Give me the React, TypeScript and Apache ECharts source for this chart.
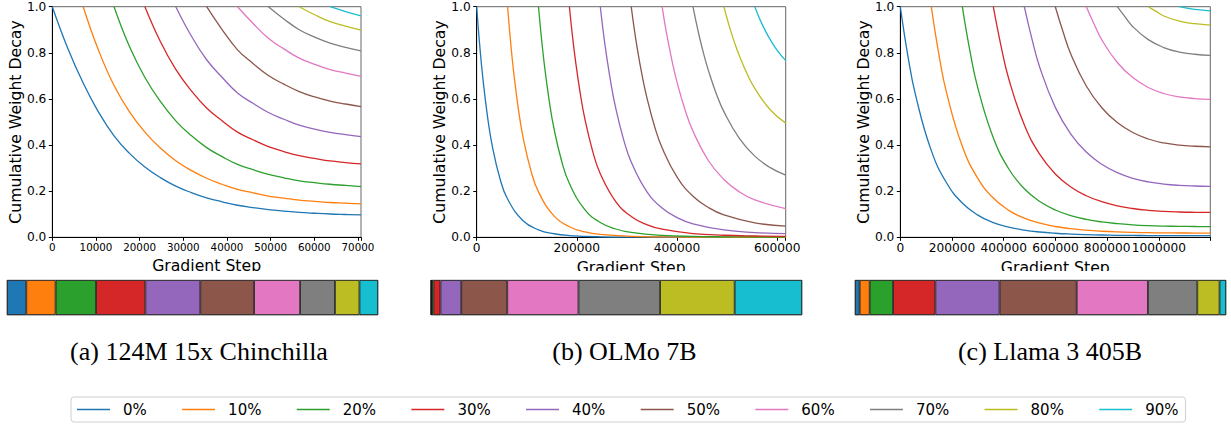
import React, { useEffect, useRef } from "react";
import * as echarts from "echarts";

const colors = ["#1f77b4", "#ff7f0e", "#2ca02c", "#d62728", "#9467bd", "#8c564b", "#e377c2", "#7f7f7f", "#bcbd22", "#17becf"];
const seriesNames = ["0%", "10%", "20%", "30%", "40%", "50%", "60%", "70%", "80%", "90%"];
const startFractions = [0, 0.1, 0.2, 0.3, 0.4, 0.5, 0.6, 0.7, 0.8, 0.9];
const captions = ["(a) 124M 15x Chinchilla", "(b) OLMo 7B", "(c) Llama 3 405B"];

// (a) 124M 15x Chinchilla
const chinchillaTotalSteps = 70700;
const chinchillaTicks = 10000;
const chinchillaOffsets = [0, 0.05, 0.1, 0.15, 0.2, 0.25, 0.3, 0.35, 0.4, 0.45, 0.5, 0.55, 0.6, 0.65, 0.7, 0.75, 0.8, 0.85, 0.9, 0.95, 1];
const chinchillaCurves = [
  [1, 0.82, 0.669, 0.542, 0.44, 0.364, 0.305, 0.259, 0.222, 0.194, 0.171, 0.154, 0.139, 0.129, 0.12, 0.1136, 0.108, 0.1042, 0.101, 0.0989, 0.097],
  [1, 0.81, 0.658, 0.544, 0.456, 0.387, 0.332, 0.29, 0.256, 0.23, 0.208, 0.193, 0.179, 0.17, 0.161, 0.156, 0.151, 0.148, 0.145],
  [1, 0.827, 0.693, 0.589, 0.505, 0.441, 0.389, 0.35, 0.316, 0.293, 0.273, 0.258, 0.245, 0.237, 0.23, 0.225, 0.22],
  [1, 0.849, 0.728, 0.636, 0.561, 0.505, 0.456, 0.423, 0.393, 0.372, 0.354, 0.342, 0.331, 0.324, 0.318],
  [1, 0.874, 0.77, 0.694, 0.626, 0.581, 0.541, 0.512, 0.486, 0.469, 0.455, 0.445, 0.437],
  [1, 0.901, 0.813, 0.754, 0.702, 0.664, 0.632, 0.609, 0.591, 0.578, 0.567],
  [1, 0.928, 0.863, 0.817, 0.777, 0.75, 0.727, 0.712, 0.698],
  [1, 0.947, 0.9, 0.868, 0.842, 0.824, 0.808],
  [1, 0.965, 0.935, 0.916, 0.898],
  [1, 0.979, 0.96],
];
const chinchillaShares = [5.2, 7.9, 10.9, 13.3, 14.8, 14.5, 12.4, 9.4, 6.6, 5.0];

// (b) OLMo 7B
const olmoTotalSteps = 617000;
const olmoTicks = 200000;
const olmoOffsets = [0, 0.01, 0.02, 0.035, 0.05, 0.075, 0.1, 0.15, 0.2, 0.25, 0.3, 0.4, 0.5, 0.6, 0.7, 0.8, 0.9, 1];
const olmoCurves = [
  [1, 0.829, 0.689, 0.523, 0.399, 0.256, 0.166, 0.0719, 0.0326, 0.0154, 0.0076, 0.0021, 0.00069, 0.00027, 0.00012, 0.00007, 0.00004, 0.00003],
  [1, 0.843, 0.712, 0.555, 0.434, 0.291, 0.197, 0.0929, 0.0458, 0.0235, 0.0126, 0.0041, 0.0016, 0.00074, 0.0004, 0.00026, 0.0002],
  [1, 0.858, 0.737, 0.589, 0.472, 0.33, 0.233, 0.12, 0.0643, 0.036, 0.0211, 0.0082, 0.0038, 0.00205, 0.00132, 0.00101],
  [1, 0.872, 0.763, 0.625, 0.514, 0.375, 0.276, 0.155, 0.0904, 0.0551, 0.0351, 0.0161, 0.0088, 0.0057, 0.0043],
  [1, 0.887, 0.789, 0.663, 0.56, 0.426, 0.327, 0.1995, 0.127, 0.0843, 0.0584, 0.0318, 0.0206, 0.0157],
  [1, 0.903, 0.816, 0.704, 0.61, 0.484, 0.388, 0.2575, 0.178, 0.129, 0.0972, 0.0628, 0.0481],
  [1, 0.918, 0.845, 0.747, 0.664, 0.55, 0.46, 0.332, 0.251, 0.197, 0.162, 0.124],
  [1, 0.934, 0.874, 0.793, 0.723, 0.624, 0.545, 0.429, 0.352, 0.302, 0.27],
  [1, 0.95, 0.904, 0.842, 0.787, 0.709, 0.646, 0.553, 0.495],
  [1, 0.966, 0.935, 0.893, 0.857, 0.806, 0.766],
];
const olmoShares = [0.05, 0.1, 0.5, 1.9, 5.6, 12.4, 19.2, 22.0, 20.1, 18.15];

// (c) Llama 3 405B
const llamaTotalSteps = 1199000;
const llamaTicks = 200000;
const llamaOffsets = [0, 0.025, 0.05, 0.1, 0.15, 0.2, 0.25, 0.3, 0.35, 0.4, 0.45, 0.5, 0.55, 0.6, 0.65, 0.7, 0.75, 0.8, 0.85, 0.9, 0.95, 1];
const llamaCurves = [
  [1, 0.782, 0.612, 0.376, 0.2344, 0.1485, 0.0962, 0.064, 0.044, 0.0312, 0.023, 0.0176, 0.014, 0.01155, 0.00989, 0.00876, 0.008, 0.00751, 0.0072, 0.00703, 0.00695, 0.00691],
  [1, 0.789, 0.6227, 0.3945, 0.2556, 0.1701, 0.1168, 0.083, 0.0611, 0.0468, 0.0372, 0.0307, 0.0263, 0.02326, 0.02124, 0.01993, 0.01913, 0.01868, 0.01846, 0.01835],
  [1, 0.805, 0.648, 0.4313, 0.2961, 0.2103, 0.1549, 0.1185, 0.0942, 0.0778, 0.0666, 0.059, 0.0538, 0.0505, 0.0485, 0.0474, 0.0468, 0.0465],
  [1, 0.829, 0.6866, 0.4877, 0.3593, 0.2748, 0.2185, 0.1803, 0.1544, 0.1367, 0.1249, 0.1172, 0.1124, 0.1098, 0.1085, 0.1079],
  [1, 0.858, 0.7367, 0.5635, 0.4479, 0.3697, 0.3165, 0.2803, 0.256, 0.2402, 0.2306, 0.2252, 0.2225, 0.2212],
  [1, 0.8915, 0.7949, 0.656, 0.5616, 0.4974, 0.4543, 0.4263, 0.4091, 0.3996, 0.3948, 0.3924],
  [1, 0.9252, 0.8561, 0.7581, 0.6925, 0.6498, 0.6236, 0.609, 0.6018, 0.5982],
  [1, 0.9557, 0.9134, 0.8571, 0.8226, 0.8033, 0.7938, 0.789],
  [1, 0.9797, 0.9597, 0.9373, 0.9262, 0.9205],
  [1, 0.9941, 0.9882, 0.9822],
];
const llamaShares = [1.26, 2.7, 6.3, 11.4, 17.3, 20.8, 19.2, 13.3, 6.0, 1.74];

const yTicks = [0, 0.2, 0.4, 0.6, 0.8, 1.0];

const FONT = "DejaVu Sans";

type Panel = {
  total: number;
  tick: number;
  offsets: number[];
  curves: number[][];
  shares: number[];
  tickFont: number;
};

const panels: Panel[] = [
  { total: chinchillaTotalSteps, tick: chinchillaTicks, offsets: chinchillaOffsets, curves: chinchillaCurves, shares: chinchillaShares, tickFont: 10.3 },
  { total: olmoTotalSteps, tick: olmoTicks, offsets: olmoOffsets, curves: olmoCurves, shares: olmoShares, tickFont: 12.2 },
  { total: llamaTotalSteps, tick: llamaTicks, offsets: llamaOffsets, curves: llamaCurves, shares: llamaShares, tickFont: 12.2 },
];

const lineGrids = [
  { left: 52.3, top: 6.7, width: 308.7, height: 230.6 },
  { left: 476.7, top: 6.7, width: 309, height: 230.6 },
  { left: 900.3, top: 6.7, width: 310, height: 230.6 },
];
const barGrids = [
  { left: 7, top: 280, width: 371, height: 35 },
  { left: 431, top: 280, width: 371, height: 35 },
  { left: 855, top: 280, width: 371, height: 35 },
];
const captionCenters = [199, 624.5, 1050];

function buildOption() {
  const grid: any[] = [];
  const xAxis: any[] = [];
  const yAxis: any[] = [];
  const series: any[] = [];

  panels.forEach((p, pi) => {
    grid.push({
      ...lineGrids[pi],
      show: true,
      borderColor: "#666",
      borderWidth: 1,
      backgroundColor: "transparent",
      containLabel: false,
    });
    xAxis.push({
      type: "value",
      gridIndex: pi,
      min: 0,
      max: p.total,
      interval: p.tick,
      name: "Gradient Step",
      nameLocation: "middle",
      nameGap: 20,
      nameTextStyle: { fontFamily: FONT, fontSize: 15.7, color: "#000" },
      axisLine: { show: true, onZero: false, lineStyle: { color: "#000", width: 1 } },
      axisTick: { show: true, length: 3.5, lineStyle: { color: "#000", width: 1 } },
      axisLabel: {
        fontFamily: FONT,
        fontSize: p.tickFont,
        color: "#000",
        margin: 5,
        formatter: (v: number) => (Math.abs(v % p.tick) < 1e-6 ? String(v) : ""),
      },
      splitLine: { show: false },
    });
    yAxis.push({
      type: "value",
      gridIndex: pi,
      min: 0,
      max: 1,
      interval: 0.2,
      name: "Cumulative Weight Decay",
      nameLocation: "middle",
      nameGap: 29,
      nameTextStyle: { fontFamily: FONT, fontSize: 15.7, color: "#000" },
      axisLine: { show: true, onZero: false, lineStyle: { color: "#000", width: 1 } },
      axisTick: { show: true, length: 3.5, lineStyle: { color: "#000", width: 1 } },
      axisLabel: {
        fontFamily: FONT,
        fontSize: 12.2,
        color: "#000",
        margin: 6,
        formatter: (v: number) => (yTicks.some((t) => Math.abs(t - v) < 1e-9) ? v.toFixed(1) : ""),
      },
      splitLine: { show: false },
    });
    p.curves.forEach((vals, ci) => {
      series.push({
        type: "line",
        name: seriesNames[ci],
        xAxisIndex: pi,
        yAxisIndex: pi,
        data: vals.map((v, k) => [(startFractions[ci] + p.offsets[k]) * p.total, v]),
        showSymbol: false,
        symbol: "none",
        smooth: 0.45,
        lineStyle: { color: colors[ci], width: 1.3 },
        itemStyle: { color: colors[ci] },
        z: 3,
      });
    });
  });

  panels.forEach((p, pi) => {
    const gi = 3 + pi;
    grid.push({
      ...barGrids[pi],
      show: true,
      borderColor: "#888",
      borderWidth: 1,
      backgroundColor: "transparent",
    });
    xAxis.push({ type: "value", gridIndex: gi, min: 0, max: 100, show: false });
    yAxis.push({ type: "category", gridIndex: gi, data: ["share"], show: false });
    p.shares.forEach((s, ci) => {
      series.push({
        type: "bar",
        name: seriesNames[ci],
        xAxisIndex: gi,
        yAxisIndex: gi,
        stack: "share" + pi,
        data: [s],
        barWidth: "100%",
        barCategoryGap: 0,
        itemStyle: { color: colors[ci], borderColor: "#111", borderWidth: 0.8 },
        silent: true,
        z: 2,
      });
    });
  });

  const graphic: any[] = [
    // white strip where the colour bars' panels sit, hiding the bottom of the axis names
    { type: "rect", z: 50, shape: { x: 0, y: 271, width: 1231, height: 8.5 }, style: { fill: "#fff" }, silent: true },
  ];
  captions.forEach((c, i) => {
    graphic.push({
      type: "text",
      z: 50,
      x: captionCenters[i],
      y: 351,
      style: {
        text: c,
        fontFamily: "Liberation Serif",
        fontSize: 26,
        fill: "#000",
        align: "center",
        verticalAlign: "middle",
      },
    });
  });

  return {
    animation: false,
    backgroundColor: "#fff",
    grid,
    xAxis,
    yAxis,
    series,
    graphic,
    legend: {
      data: seriesNames,
      left: 71,
      top: 397,
      orient: "horizontal",
      icon: "rect",
      itemWidth: 33,
      itemHeight: 1.5,
      itemGap: 35.3,
      padding: [5, 7, 5, 6],
      borderColor: "#d0d0d0",
      borderWidth: 1,
      borderRadius: 3,
      backgroundColor: "#fff",
      selectedMode: false,
      textStyle: { fontFamily: FONT, fontSize: 15, color: "#000", padding: [0, 0, 0, 8] },
    },
  };
}

export default function App() {
  const ref = useRef<HTMLDivElement>(null);
  useEffect(() => {
    if (!ref.current) return;
    const chart = echarts.init(ref.current, undefined, { renderer: "svg" });
    chart.setOption(buildOption() as any);
    return () => chart.dispose();
  }, []);
  return (
    <div
      ref={ref}
      style={{ position: "absolute", left: 0, top: 0, width: 1231, height: 427, background: "#fff" }}
    />
  );
}
